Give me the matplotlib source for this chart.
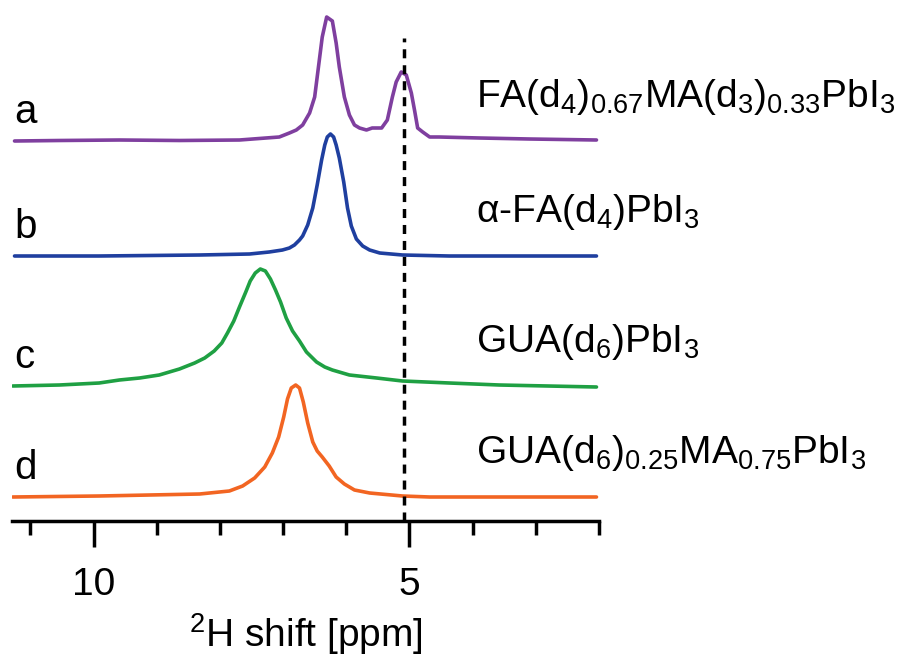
import numpy as np
import matplotlib.pyplot as plt
from matplotlib.ticker import FixedLocator

plt.rcParams['font.family'] = ['Liberation Sans', 'DejaVu Sans']
plt.rcParams['mathtext.default'] = 'regular'

ppm_a = [11.25, 10.54, 9.59, 8.64, 7.69, 7.06, 6.90, 6.79, 6.69, 6.58, 6.50, 6.42, 6.38,
         6.31, 6.22, 6.16, 6.11, 6.03, 5.95, 5.87, 5.79, 5.68, 5.59, 5.44, 5.35, 5.27,
         5.21, 5.13, 5.05, 4.97, 4.92, 4.87, 4.79, 4.68, 4.53, 3.89, 3.10, 2.04]
int_a = [0, 0.5, 1, 0.5, 1, 4, 8, 11, 16, 28, 44, 84, 104,
         124, 120, 98, 74, 44, 26, 16, 13, 11, 13, 13, 21, 44,
         59, 69, 66, 48, 31, 13, 9, 4, 4, 3, 2, 1]

ppm_b = [11.25, 9.91, 8.32, 7.53, 7.22, 7.01, 6.90, 6.82, 6.74, 6.69, 6.61, 6.53, 6.46,
         6.39, 6.34, 6.30, 6.25, 6.20, 6.16, 6.11, 6.04, 5.98, 5.92, 5.84, 5.74, 5.63,
         5.47, 5.11, 4.37, 2.04]
int_b = [0, 0, 1, 2, 4, 6, 8, 11, 16, 20, 31, 48, 71,
         96, 111, 119, 122, 119, 111, 98, 74, 48, 30, 17, 10, 6,
         3, 1, 0, 0]

ppm_c = [11.28, 10.54, 9.91, 9.59, 9.27, 8.96, 8.64, 8.40, 8.24, 8.09, 7.97, 7.88, 7.78,
         7.69, 7.59, 7.52, 7.44, 7.36, 7.28, 7.20, 7.12, 7.04, 6.95, 6.85, 6.74, 6.63,
         6.47, 6.34, 6.22, 5.95, 5.52, 5.11, 4.37, 3.58, 2.04]
int_c = [0, 1, 3, 6, 8, 11, 17, 23, 28, 35, 43, 53, 65,
         79, 94, 105, 113, 117, 115, 107, 96, 84, 68, 55, 45, 34,
         24, 19, 16, 11, 8, 5, 3, 1, -1]

ppm_d = [11.28, 9.91, 9.11, 8.32, 7.85, 7.64, 7.45, 7.29, 7.17, 7.07, 6.99, 6.93, 6.87,
         6.80, 6.74, 6.68, 6.61, 6.53, 6.46, 6.38, 6.27, 6.16, 6.03, 5.87, 5.63, 5.11,
         4.68, 2.04]
int_d = [0, 1, 2, 3, 6, 11, 19, 30, 44, 60, 80, 98, 109,
         112, 109, 95, 74, 55, 46, 40, 31, 20, 13, 7, 4, 1,
         0, 0]

offsets = [380, 265, 135, 24]
letters = ['a', 'b', 'c', 'd']
names = [r'FA(d$_4$)$_{0.67}$MA(d$_3$)$_{0.33}$PbI$_3$',
         r'α-FA(d$_4$)PbI$_3$',
         r'GUA(d$_6$)PbI$_3$',
         r'GUA(d$_6$)$_{0.25}$MA$_{0.75}$PbI$_3$']
colors = ['#7f3f9f', '#1f3f9f', '#1fa043', '#f26522']
ref_ppm = 5.09

fig = plt.figure(figsize=(8.97, 6.61), dpi=100)
ax = fig.add_axes([12 / 897, 140 / 661, 587 / 897, 521 / 661])

spectra = [(ppm_a, int_a), (ppm_b, int_b), (ppm_c, int_c), (ppm_d, int_d)]
for (x, y), off, col in zip(spectra, offsets, colors):
    ax.plot(x, np.array(y) + off, color=col, lw=2.6,
            solid_joinstyle='round', solid_capstyle='round')

ax.plot([ref_ppm, ref_ppm], [0, 483], color='black', lw=2.5, ls=(0, (2.6, 2.0)))

# labels
for letter, name, off in zip(letters, names, offsets):
    ax.text(11.25, off + 18, letter, fontsize=29, va='baseline', ha='left')
    ax.text(3.94, off + 34, name, fontsize=28, va='baseline', ha='left', clip_on=False)

ax.set_xlim(11.29, 2.0)
ax.set_ylim(0, 521)
for s in ['top', 'right', 'left']:
    ax.spines[s].set_visible(False)
ax.spines['bottom'].set_linewidth(2.5)
ax.set_yticks([])
ax.xaxis.set_major_locator(FixedLocator([10, 5]))
ax.xaxis.set_minor_locator(FixedLocator([11, 9, 8, 7, 6, 4, 3, 2]))
ax.tick_params(axis='x', which='major', length=19, width=2.5, labelsize=28, pad=14)
ax.tick_params(axis='x', which='minor', length=10, width=2.5)
ax.set_xlabel(r'$^{2}$H shift [ppm]', fontsize=28, labelpad=6)

fig.savefig('out.png', dpi=100)
